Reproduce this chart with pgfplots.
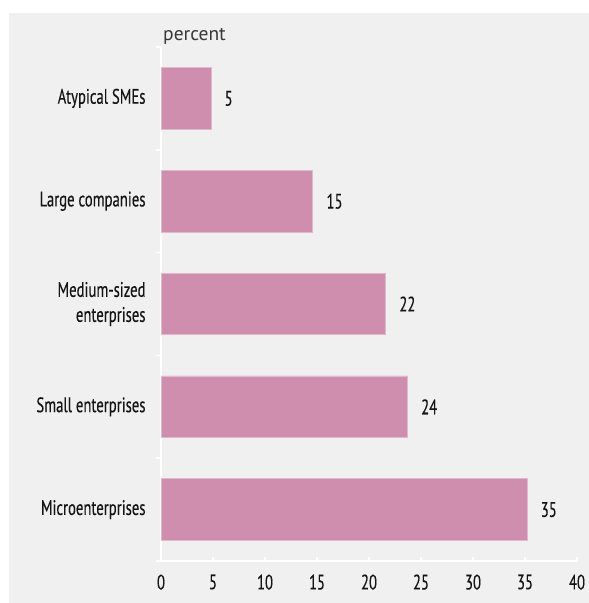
\documentclass[border=0pt]{standalone}
\usepackage{fontspec}
\setmainfont{PT Sans}[FakeStretch=0.7, FakeBold=0.25]
\newfontfamily\lightfont{PT Sans}
\usepackage{pgfplots}
\pgfplotsset{compat=1.18}
\definecolor{bg}{RGB}{240,240,240}
\definecolor{barc}{RGB}{207,142,173}
\definecolor{barline}{RGB}{225,185,204}
\definecolor{txt}{RGB}{20,20,20}
\begin{document}
\begin{tikzpicture}[x=1bp,y=1bp]
\useasboundingbox (0,0) rectangle (589,603);
\fill[white] (0,0) rectangle (589,603);
\fill[bg] (9,0) rectangle (589,590);
\node[anchor=base west, text=txt!85, font=\lightfont\fontsize{19.5bp}{22bp}\selectfont, inner sep=0pt] at (163,562) {percent};
\begin{axis}[
  at={(161bp,42bp)}, anchor=south west,
  scale only axis, width=416bp, height=514bp,
  xmin=0, xmax=40, ymin=-0.5, ymax=4.5,
  xbar, bar width=0.6,
  axis lines*=left,
  axis line style={white, line width=1.6bp},
  xtick={0,5,...,40},
  ytick={0,1,2,3,4},
  yticklabels={Microenterprises, Small enterprises, {Medium-sized\\enterprises}, Large companies, Atypical SMEs},
  minor ytick={-0.5,0.5,1.5,2.5,3.5,4.5},
  tick align=inside,
  major tick length=4bp,
  minor tick length=5bp,
  tick style={white, line width=1.6bp},
  major y tick style={draw=none},
  minor y tick style={white, line width=1.6bp, xshift=-5bp},
  /pgf/number format/assume math mode=true,
  xticklabel style={font=\fontsize{21bp}{24bp}\selectfont, text=txt, yshift=-10bp},
  yticklabel style={font=\fontsize{21bp}{25bp}\selectfont, text=txt, align=right, xshift=-12bp},
  point meta=explicit symbolic,
  nodes near coords,
  nodes near coords style={font=\fontsize{21bp}{24bp}\selectfont, text=txt, anchor=west, xshift=10bp},
]
\addplot[fill=barc, draw=barline, line width=0.8bp] coordinates {
  (35.2,0) [35]
  (23.7,1) [24]
  (21.6,2) [22]
  (14.6,3) [15]
  (4.8,4) [5]
};
\end{axis}
\end{tikzpicture}
\end{document}
